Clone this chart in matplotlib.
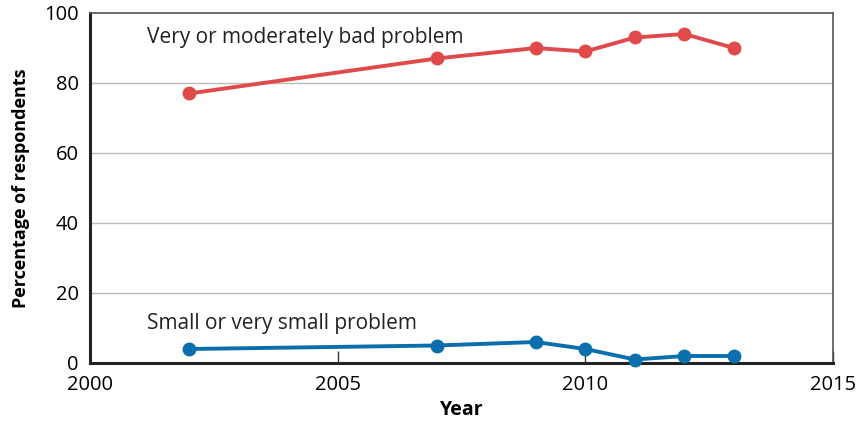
import matplotlib.pyplot as plt

plt.rcParams['font.family'] = ['Open Sans', 'DejaVu Sans']

# data
years = [2002, 2007, 2009, 2010, 2011, 2012, 2013]
bad_problem = [77, 87, 90, 89, 93, 94, 90]
small_problem = [4, 5, 6, 4, 1, 2, 2]

red = '#e04a4a'
blue = '#0b6ead'

fig = plt.figure(figsize=(8.59, 4.28), dpi=100)
ax = fig.add_axes([90 / 859, 1 - 363 / 428, 743 / 859, 350 / 428])

ax.plot(years, bad_problem, color=red, lw=2.8, marker='o', ms=9, zorder=3)
ax.plot(years, small_problem, color=blue, lw=2.8, marker='o', ms=9, zorder=3,
        clip_on=False)

ax.text(2001.15, 93, 'Very or moderately bad problem', fontsize=15,
        color='#222222', va='center')
ax.text(2001.15, 11.3, 'Small or very small problem', fontsize=15,
        color='#222222', va='center')

ax.set_xlim(2000, 2015)
ax.set_ylim(0, 100)
ax.set_xticks([2000, 2005, 2010, 2015])
ax.set_yticks([0, 20, 40, 60, 80, 100])
ax.tick_params(axis='x', direction='in', length=9, width=1, color='#333333',
               labelsize=14.5, pad=9)
ax.tick_params(axis='y', length=0, labelsize=14.5, pad=8)

for y in [20, 40, 60, 80]:
    ax.axhline(y, color='#bbbbbb', lw=1, zorder=1)

ax.spines['left'].set_linewidth(2.2)
ax.spines['bottom'].set_linewidth(2.2)
ax.spines['left'].set_color('#222222')
ax.spines['bottom'].set_color('#222222')
ax.spines['top'].set_linewidth(1.2)
ax.spines['right'].set_linewidth(1.2)
ax.spines['top'].set_color('#555555')
ax.spines['right'].set_color('#555555')

ax.set_xlabel('Year', fontsize=14, fontweight='bold', labelpad=3)
ax.set_ylabel('Percentage of respondents', fontsize=13, fontweight='bold',
              labelpad=10)

fig.savefig('out.png', dpi=100)
